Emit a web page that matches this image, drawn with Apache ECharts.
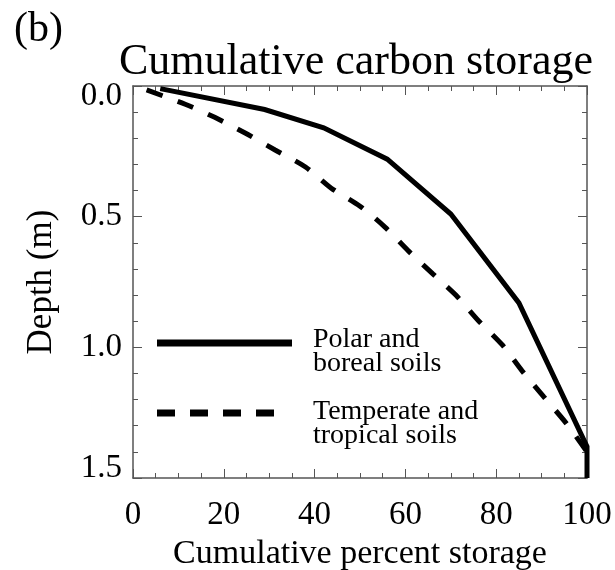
<!DOCTYPE html>
<html>
<head>
<meta charset="utf-8">
<script src="https://cdn.jsdelivr.net/npm/echarts@6/dist/echarts.min.js"></script>
<style>
  html, body { margin: 0; padding: 0; background: #fff; }
  #chart { width: 615px; height: 570px; }
</style>
</head>
<body>
<div id="chart"></div>
<script>
// Cumulative percent of soil carbon stored above each depth (m)
const polarPercent = [6, 29, 42, 56, 70, 85, 100, 100];
const polarDepth   = [0.01, 0.09, 0.16, 0.28, 0.49, 0.83, 1.38, 1.5];

const temperatePercent = [3, 11.5, 18, 24.7, 31.3, 38, 43.6, 50, 55.5, 60.6, 66.1, 71.1, 76.2, 81.3, 85.7, 90.5, 95.4, 100];
const temperateDepth   = [0.015, 0.07, 0.12, 0.18, 0.245, 0.31, 0.39, 0.46, 0.54, 0.63, 0.72, 0.80, 0.90, 0.99, 1.09, 1.19, 1.29, 1.40];

const seriesNames = ['Polar and\nboreal soils', 'Temperate and\ntropical soils'];
const xTicks = [0, 20, 40, 60, 80, 100];
const yTicks = [0.0, 0.5, 1.0, 1.5];

const serif = '"Liberation Serif", "DejaVu Serif", serif';
const frame = '#555';

const pairs = (xs, ys) => xs.map((x, i) => [x, ys[i]]);

const chart = echarts.init(document.getElementById('chart'), null, { renderer: 'canvas' });

// Frame axes on all four sides, ticks pointing into the plot
function frameAxis(extra, minorSplit) {
  return Object.assign({
    type: 'value',
    axisLine: { show: true, onZero: false, lineStyle: { color: frame, width: 1.5 } },
    axisTick: { show: true, inside: true, length: 9, lineStyle: { color: frame, width: 1 } },
    minorTick: { show: true, splitNumber: minorSplit, length: 5, lineStyle: { color: frame, width: 1 } },
    splitLine: { show: false },
    minorSplitLine: { show: false }
  }, extra);
}

const xScale = { min: xTicks[0], max: xTicks[xTicks.length - 1], interval: 20 };
const yScale = { inverse: true, min: yTicks[0], max: yTicks[yTicks.length - 1], interval: 0.5 };

// End labels of the depth axis sit inside the frame corners
const yLabel = v => {
  const s = v.toFixed(1);
  if (v === yTicks[0]) return '{first|' + s + '}';
  if (v === yTicks[yTicks.length - 1]) return '{last|' + s + '}';
  return s;
};

chart.setOption({
  animation: false,
  backgroundColor: '#fff',
  textStyle: { fontFamily: serif, color: '#000' },
  title: [
    { text: '(b)', left: 9, top: 4, textStyle: { fontFamily: serif, fontSize: 42, fontWeight: 'normal', color: '#000' } },
    { text: 'Cumulative carbon storage', left: 351, textAlign: 'center', top: 35, textStyle: { fontFamily: serif, fontSize: 44, fontWeight: 'normal', color: '#000' } }
  ],
  grid: { left: 133, right: 28, top: 86, bottom: 92, containLabel: false, outerBoundsMode: 'none' },
  xAxis: [
    frameAxis(Object.assign({
      position: 'bottom',
      name: 'Cumulative percent storage', nameLocation: 'middle', nameGap: 55,
      nameTextStyle: { fontFamily: serif, fontSize: 34, color: '#000' },
      axisLabel: { margin: 21, fontFamily: serif, fontSize: 33, color: '#000' }
    }, xScale), 4),
    frameAxis(Object.assign({ position: 'top', axisLabel: { show: false } }, xScale), 4)
  ],
  yAxis: [
    frameAxis(Object.assign({
      position: 'left',
      name: 'Depth (m)', nameLocation: 'middle', nameGap: 74, nameRotate: 90,
      nameTextStyle: { fontFamily: serif, fontSize: 35, color: '#000' },
      axisLabel: {
        margin: 11, fontFamily: serif, fontSize: 33, color: '#000', formatter: yLabel,
        rich: {
          first: { fontFamily: serif, fontSize: 33, color: '#000', padding: [20, 0, 0, 0] },
          last: { fontFamily: serif, fontSize: 33, color: '#000', padding: [0, 0, 20, 0] }
        }
      }
    }, yScale), 5),
    frameAxis(Object.assign({ position: 'right', axisLabel: { show: false } }, yScale), 5)
  ],
  series: [
    {
      name: seriesNames[0], type: 'line', xAxisIndex: 0, yAxisIndex: 0,
      data: pairs(polarPercent, polarDepth),
      showSymbol: false, symbol: 'none', clip: true,
      lineStyle: { color: '#000', width: 5, cap: 'butt', join: 'miter' }
    },
    {
      name: seriesNames[1], type: 'line', xAxisIndex: 0, yAxisIndex: 0,
      data: pairs(temperatePercent, temperateDepth),
      showSymbol: false, symbol: 'none', smooth: 0.3, clip: true,
      lineStyle: { color: '#000', width: 5, type: [17, 16], cap: 'butt' }
    }
  ],
  graphic: [
    { type: 'line', shape: { x1: 157, y1: 343, x2: 292, y2: 343 }, style: { stroke: '#000', lineWidth: 7 } },
    { type: 'text', left: 313, top: 326, style: { text: seriesNames[0], font: '28px ' + serif, fill: '#000', lineHeight: 24 } },
    { type: 'line', shape: { x1: 157, y1: 413, x2: 275, y2: 413 }, style: { stroke: '#000', lineWidth: 7, lineDash: [18, 15] } },
    { type: 'text', left: 313, top: 398, style: { text: seriesNames[1], font: '28px ' + serif, fill: '#000', lineHeight: 24 } }
  ]
});
</script>
</body>
</html>
